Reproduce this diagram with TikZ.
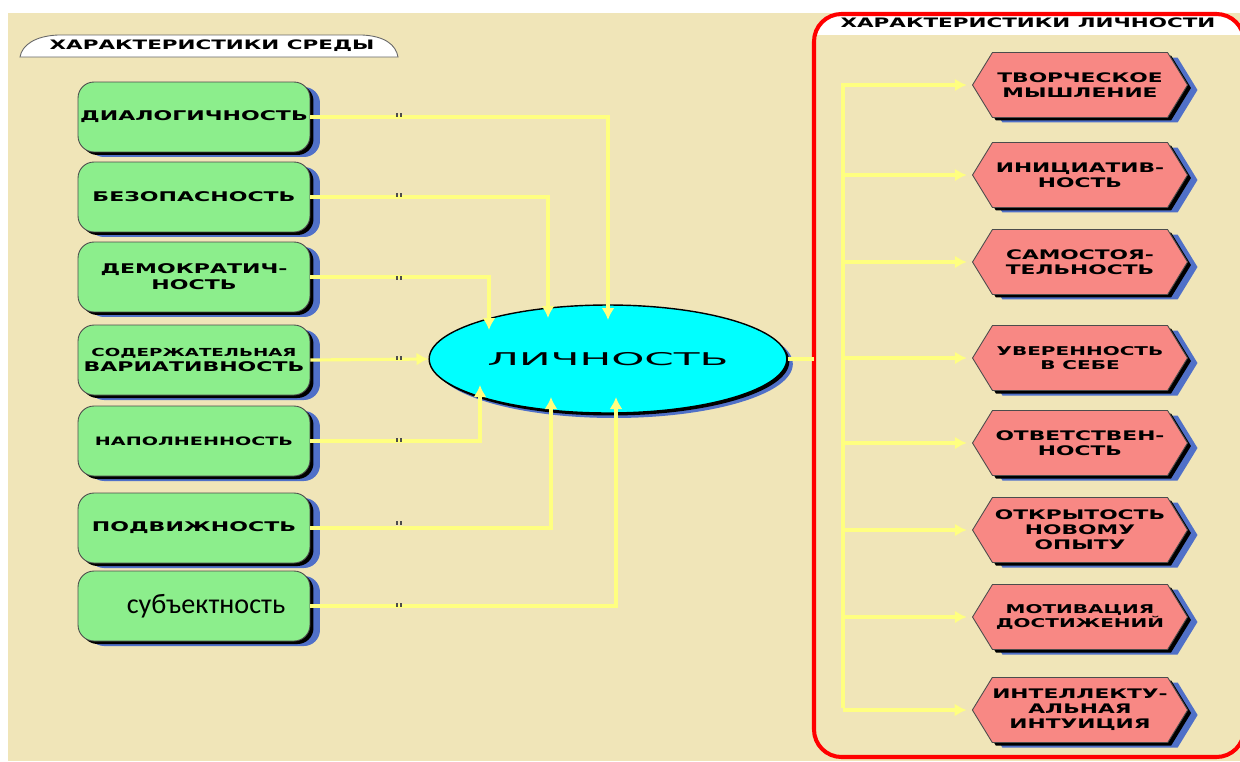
\documentclass[tikz,border=0pt]{standalone}
\usepackage{fontspec}
\usetikzlibrary{shapes.geometric,shapes.symbols,arrows.meta,shadows,calc}
\newfontfamily\extfont[FakeStretch=1.65]{DejaVu Sans}
\newfontfamily\ellfont[FakeStretch=2.4]{DejaVu Sans}
\newfontfamily\carlfont{Carlito}
\definecolor{bg}{RGB}{240,229,184}
\definecolor{gfill}{RGB}{140,238,140}
\definecolor{pfill}{RGB}{248,136,132}
\definecolor{shblue}{RGB}{80,112,200}
\definecolor{yline}{RGB}{255,255,128}
\definecolor{framered}{RGB}{255,0,0}
\definecolor{ecyan}{RGB}{0,255,255}
\begin{document}
\begin{tikzpicture}[x=0.02cm,y=-0.02cm,
  twoshadows/.style={
    general shadow={fill=shblue, shadow xshift=0.2cm, shadow yshift=-0.1cm},
    general shadow={fill=black, shadow xshift=0.07cm, shadow yshift=-0.06cm}},
  gbox/.style={rectangle, rounded corners=0.32cm, minimum width=4.64cm, minimum height=1.4cm,
    fill=gfill, draw=black!70, line width=0.5pt, align=center, inner sep=0pt,
    font=\extfont\bfseries\fontsize{7.6}{9}\selectfont, twoshadows},
  hexbox/.style={signal, signal to=east and west, signal pointer angle=117,
    minimum width=4.3cm, minimum height=1.3cm, inner sep=0pt,
    fill=pfill, draw=black!70, line width=0.5pt, align=center,
    font=\extfont\bfseries\fontsize{7.5}{8.6}\selectfont, twoshadows},
  smallhex/.style={font=\extfont\bfseries\fontsize{6.9}{8.4}\selectfont},
  ellbox/.style={ellipse, minimum width=7cm, minimum height=2.16cm, fill=ecyan,
    draw=black, line width=0.8pt,
    general shadow={fill=shblue, shadow xshift=0.12cm, shadow yshift=-0.1cm},
    general shadow={fill=black, shadow xshift=0.05cm, shadow yshift=-0.05cm},
    font=\ellfont\fontsize{10}{12}\selectfont},
  yl/.style={draw=yline, line width=1.8pt},
  conn/.style={yl, -{Latex[length=0.24cm,width=0.26cm]}},
  headtext/.style={font=\extfont\bfseries\fontsize{7.4}{9}\selectfont, inner sep=0pt}
]
\useasboundingbox (0,0) rectangle (1240,761);
\fill[white] (0,0) rectangle (1240,761);
\fill[bg] (8,13) rectangle (1240,761);

% left header tab
\filldraw[fill=white, draw=black!60, line width=0.5pt]
  (20,57) .. controls (22,45) and (35,36) .. (58,35) -- (362,35)
  .. controls (385,36) and (396,45) .. (398,57) -- cycle;
\node[headtext] (tl) at (212,46) {ХАРАКТЕРИСТИКИ СРЕДЫ};

% right frame
\begin{scope}
  \clip[rounded corners=0.55cm] (814,14) rectangle (1244,757);
  \fill[white] (814,14) rectangle (1244,35);
\end{scope}
\draw[framered, line width=2.3pt, rounded corners=0.55cm] (814,14) rectangle (1244,757);
\node[headtext] (tr) at (1028,23) {ХАРАКТЕРИСТИКИ ЛИЧНОСТИ};

% environment boxes
\node[gbox] (s1) at (194,117) {ДИАЛОГИЧНОСТЬ};
\node[gbox] (s2) at (194,197) {БЕЗОПАСНОСТЬ};
\node[gbox] (s3) at (194,277) {ДЕМОКРАТИЧ-\\НОСТЬ};
\node[gbox] (s4) at (194,360) {{\fontsize{6.3}{8}\selectfont СОДЕРЖАТЕЛЬНАЯ}\\ВАРИАТИВНОСТЬ};
\node[gbox] (s5) at (194,441) {\fontsize{6.6}{8}\selectfont НАПОЛНЕННОСТЬ};
\node[gbox] (s6) at (194,528) {ПОДВИЖНОСТЬ};
\node[gbox] (s7) at (194,606) {\hspace*{0.48cm}{\carlfont\mdseries\fontsize{16}{18}\selectfont субъектность}};

% central ellipse
\node[ellbox] (e) at (608,359) {ЛИЧНОСТЬ};

% connectors into ellipse
\draw[conn] (s1.east) -| ($(e.center)+(0,-39)$);
\draw[conn] (s2.east) -| ($(e.center)+(-60,-41)$);
\draw[conn] (s3.east) -| ($(e.center)+(-119,-29)$);
\draw[conn] (s4.east) -- (e.west);
\draw[conn] (s5.east) -| ($(e.center)+(-128,26)$);
\draw[conn] (s6.east) -| ($(e.center)+(-57,38)$);
\draw[conn] (s7.east) -| ($(e.center)+(8,38)$);
\foreach \yy in {115,195,278,358,440,523,605}
  \draw[black!70, line width=0.6pt] (397,\yy-2) -- (397,\yy+2) (401,\yy-2) -- (401,\yy+2);

% personality hexagons
\node[hexbox] (h1) at (1080,85) {ТВОРЧЕСКОЕ\\МЫШЛЕНИЕ};
\node[hexbox] (h2) at (1080,175) {ИНИЦИАТИВ-\\НОСТЬ};
\node[hexbox] (h3) at (1080,262) {САМОСТОЯ-\\ТЕЛЬНОСТЬ};
\node[hexbox, smallhex] (h4) at (1080,358) {УВЕРЕННОСТЬ\\В СЕБЕ};
\node[hexbox] (h5) at (1080,443) {ОТВЕТСТВЕН-\\НОСТЬ};
\node[hexbox] (h6) at (1080,530) {ОТКРЫТОСТЬ\\НОВОМУ\\ОПЫТУ};
\node[hexbox, smallhex] (h7) at (1080,617) {МОТИВАЦИЯ\\ДОСТИЖЕНИЙ};
\node[hexbox] (h8) at (1080,710) {ИНТЕЛЛЕКТУ-\\АЛЬНАЯ\\ИНТУИЦИЯ};

% right connectors
\coordinate (fr) at (814,359);
\coordinate (vt) at (843,83);
\coordinate (vb) at (843,708);
\draw[yl] (e.east) -- (fr);
\draw[yl] (vt) -- (vb);
\foreach \h in {h1,h2,h3,h4,h5,h6,h7,h8}
  \draw[conn, shorten >=3pt] (vt |- \h.west) -- (\h.west);
\end{tikzpicture}
\end{document}
